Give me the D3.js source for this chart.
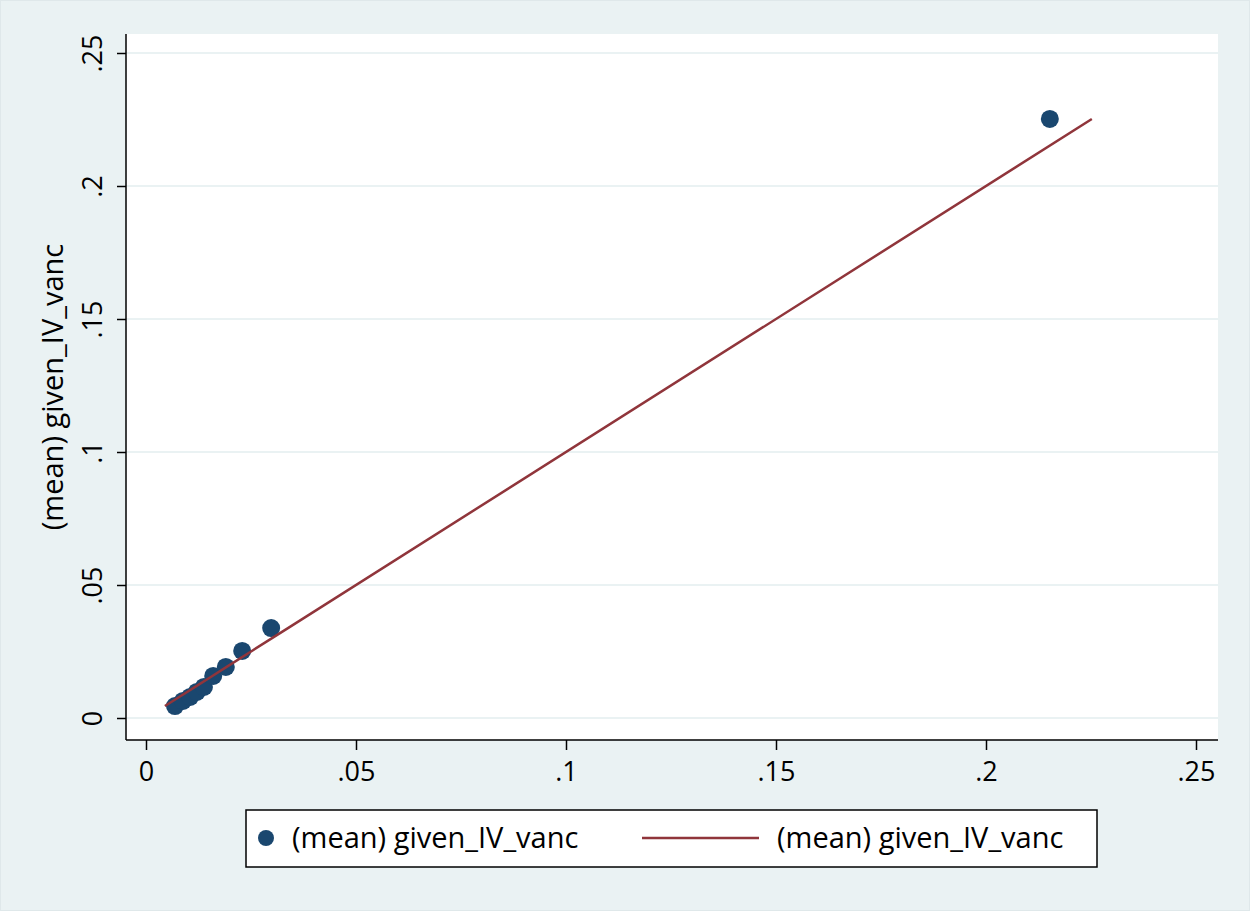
<!DOCTYPE html>
<html>
<head>
<meta charset="utf-8">
<script src="https://cdn.jsdelivr.net/npm/d3@7"></script>
<style>
  html, body { margin: 0; padding: 0; background: #eaf2f3; }
  svg { display: block; }
  text { font-family: "Open Sans", "Noto Sans", sans-serif; fill: #000; }
</style>
</head>
<body>
<script>
// Group means of given_IV_vanc (x) against the same outcome (y)
const xValues = [0.0069, 0.0088, 0.0105, 0.0121, 0.0138, 0.0160, 0.0190, 0.0229, 0.0298, 0.2152];
const yValues = [0.0045, 0.0064, 0.0079, 0.0098, 0.0117, 0.0158, 0.0192, 0.0252, 0.0338, 0.2252];
const tickValues = [0, 0.05, 0.1, 0.15, 0.2, 0.25];
const tickLabels = ["0", ".05", ".1", ".15", ".2", ".25"];
const seriesLabel = "(mean) given_IV_vanc";

const W = 1250, H = 911;
const plot = { left: 126, right: 1218, top: 34, bottom: 740 };
const font = "'Open Sans', 'Noto Sans', sans-serif";

const svg = d3.select("body").append("svg").attr("width", W).attr("height", H);

svg.append("rect").attr("x", 0.5).attr("y", 0.5).attr("width", W - 1).attr("height", H - 1)
  .attr("fill", "#eaf2f3").attr("stroke", "#dfe8ea");

svg.append("rect")
  .attr("x", plot.left).attr("y", plot.top)
  .attr("width", plot.right - plot.left).attr("height", plot.bottom - plot.top)
  .attr("fill", "#fff");

const x = d3.scaleLinear().domain([0, 0.25]).range([146, 1196]);
const y = d3.scaleLinear().domain([0, 0.25]).range([718, 53]);

// horizontal grid lines
svg.append("g").selectAll("line").data(tickValues).join("line")
  .attr("x1", plot.left).attr("x2", plot.right)
  .attr("y1", d => y(d)).attr("y2", d => y(d))
  .attr("stroke", "#eaf2f3").attr("stroke-width", 2);

// y axis
const yAxis = svg.append("g").attr("transform", `translate(${plot.left},0)`)
  .call(d3.axisLeft(y).tickValues(tickValues).tickSize(9).tickSizeOuter(0)
    .tickFormat((d, i) => tickLabels[i]));
yAxis.select(".domain").attr("d", `M0,${plot.top}V${plot.bottom}`).attr("stroke", "#000").attr("stroke-width", 1.5);
yAxis.selectAll(".tick line").attr("stroke", "#000").attr("stroke-width", 1.5);
yAxis.selectAll(".tick text")
  .attr("font-size", 27).attr("font-family", font).attr("fill", "#000")
  .attr("text-anchor", "middle").attr("x", 0).attr("dy", 0)
  .attr("transform", "translate(-24,0) rotate(-90)");

// x axis
const xAxis = svg.append("g").attr("transform", `translate(0,${plot.bottom})`)
  .call(d3.axisBottom(x).tickValues(tickValues).tickSize(10).tickSizeOuter(0)
    .tickFormat((d, i) => tickLabels[i]));
xAxis.select(".domain").attr("d", `M${plot.left},0H${plot.right}`).attr("stroke", "#000").attr("stroke-width", 1.5);
xAxis.selectAll(".tick line").attr("stroke", "#000").attr("stroke-width", 1.5);
xAxis.selectAll(".tick text")
  .attr("font-size", 27).attr("font-family", font).attr("fill", "#000")
  .attr("y", 41).attr("dy", 0);

// y axis title
svg.append("text")
  .attr("transform", `translate(63,${(plot.top + plot.bottom) / 2}) rotate(-90)`)
  .attr("text-anchor", "middle").attr("font-size", 29)
  .text(seriesLabel);

const points = xValues.map((v, i) => ({ x: v, y: yValues[i] }));

// reference line: the outcome plotted against itself
const lineData = yValues.slice().sort(d3.ascending).map(v => ({ x: v, y: v }));

// markers
svg.append("g").selectAll("circle").data(points).join("circle")
  .attr("cx", d => x(d.x)).attr("cy", d => y(d.y)).attr("r", 9)
  .attr("fill", "#1a476f");

// line drawn above the markers
svg.append("path").datum(lineData)
  .attr("fill", "none").attr("stroke", "#90353b").attr("stroke-width", 2.5)
  .attr("d", d3.line().x(d => x(d.x)).y(d => y(d.y)));

// legend
const lg = svg.append("g");
lg.append("rect").attr("x", 246).attr("y", 810).attr("width", 851).attr("height", 57)
  .attr("fill", "#fff").attr("stroke", "#000").attr("stroke-width", 1.5);
lg.append("circle").attr("cx", 266).attr("cy", 838).attr("r", 8).attr("fill", "#1a476f");
lg.append("text").attr("x", 292).attr("y", 848).attr("font-size", 29).text(seriesLabel);
lg.append("line").attr("x1", 642).attr("x2", 759).attr("y1", 838).attr("y2", 838)
  .attr("stroke", "#90353b").attr("stroke-width", 2.5);
lg.append("text").attr("x", 777).attr("y", 848).attr("font-size", 29).text(seriesLabel);
</script>
</body>
</html>
